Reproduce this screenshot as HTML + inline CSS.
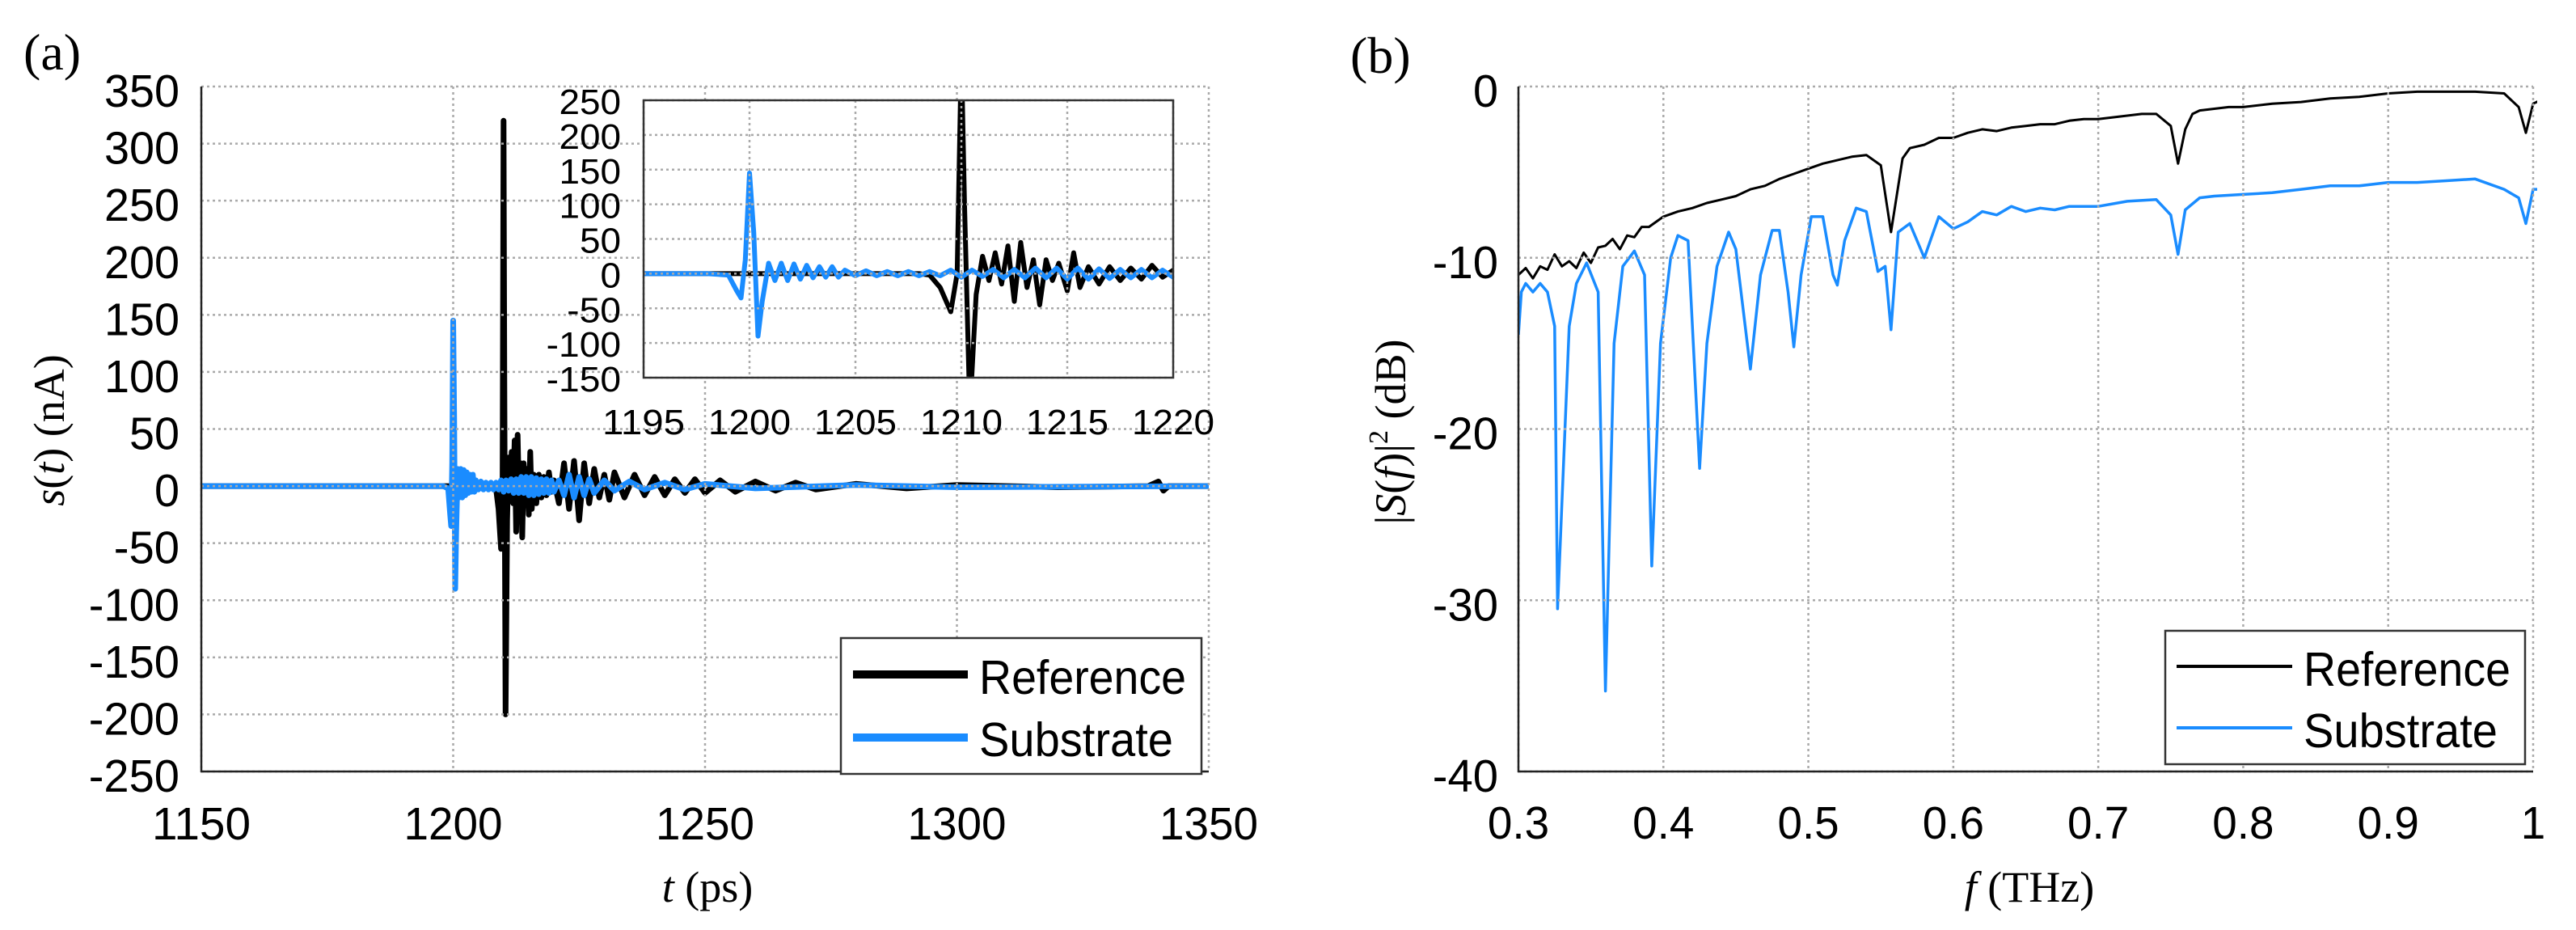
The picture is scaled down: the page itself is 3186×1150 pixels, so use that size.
<!DOCTYPE html>
<html><head><meta charset="utf-8"><style>
html,body{margin:0;padding:0;background:#fff;overflow:hidden;}
svg{display:block;}
</style></head><body>
<svg id="fig" width="3186" height="1150" xmlns="http://www.w3.org/2000/svg">
<defs>
<clipPath id="clipA"><rect x="249" y="107" width="1246" height="847"/></clipPath>
<clipPath id="clipI"><rect x="796" y="124" width="655" height="343"/></clipPath>
<clipPath id="clipB"><rect x="1878" y="107" width="1260" height="847"/></clipPath>
</defs>
</svg>
<script>
// ---------- data: panel (a) time-domain ----------
const subT=[1150,1195,1198,1199,1199.4,1199.6,1199.8,1200.0,1200.2,1200.4,1200.6,1200.9,1201.2,1201.5,1201.8,1202.1,1202.4,1202.7,1203,1203.3,1203.6,1203.9,1204.2,1204.5,1205,1205.5,1206,1206.5,1207,1207.5,1208,1208.5,1209,1209.5,1210,1210.5,1211,1211.5,1212,1212.5,1213,1213.5,1214,1214.5,1215,1215.5,1216,1216.5,1217,1217.5,1218,1218.5,1219,1219.5,1220,1221,1222,1223,1224,1225,1226,1227,1228,1230,1232,1235,1238,1242,1246,1250,1260,1280,1300,1350];
const subV=[0,0,0,-2,-25,-35,20,145,60,-90,-40,15,-10,15,-10,14,-8,12,-6,10,-5,10,-5,5,-3,4,-3,3,-3,3,-3,3,-3,5,-5,5,-4,6,-6,6,-6,8,-6,8,-8,8,-8,7,-7,6,-6,6,-6,5,-5,5,-8,10,-10,8,-8,6,-6,5,-4,4,-3,3,-3,2,-2,1,-1,0];
const refT=[1150,1208,1208.5,1209,1209.5,1209.8,1210.0,1210.15,1210.4,1210.7,1211,1211.3,1211.6,1211.9,1212.2,1212.5,1212.8,1213.1,1213.4,1213.7,1214,1214.3,1214.6,1215,1215.3,1215.6,1216,1216.5,1217,1217.5,1218,1218.5,1219,1219.5,1220,1221,1222,1223,1224,1225,1226,1227,1228,1229,1230,1231,1232,1234,1236,1238,1240,1242,1244,1246,1248,1250,1253,1256,1260,1264,1268,1272,1280,1290,1300,1320,1338,1340,1341,1342,1350];
const refV=[0,0,-2,-20,-55,0,320,100,-200,-30,25,-10,30,-15,40,-40,45,-20,20,-45,20,-10,15,-25,30,-20,10,-15,10,-10,8,-8,12,-5,5,-15,20,-20,22,-30,20,-15,15,-10,10,-12,12,-10,10,-8,8,-8,6,-6,6,-6,5,-5,4,-4,3,-3,2,-2,1,-1,0,4,-4,0,0];
const aXTicks=[1150,1200,1250,1300,1350];
const aYTicks=[350,300,250,200,150,100,50,0,-50,-100,-150,-200,-250];
const iXTicks=[1195,1200,1205,1210,1215,1220];
const iYTicks=[250,200,150,100,50,0,-50,-100,-150];
// ---------- data: panel (b) spectra ----------
const refF=[0.30,0.305,0.31,0.315,0.32,0.325,0.33,0.335,0.34,0.345,0.35,0.355,0.36,0.365,0.37,0.375,0.38,0.385,0.39,0.40,0.41,0.42,0.43,0.44,0.45,0.46,0.47,0.48,0.49,0.50,0.51,0.52,0.53,0.54,0.55,0.557,0.565,0.57,0.58,0.59,0.60,0.61,0.62,0.63,0.64,0.65,0.66,0.67,0.68,0.69,0.70,0.71,0.72,0.73,0.74,0.75,0.755,0.76,0.765,0.77,0.78,0.79,0.80,0.82,0.84,0.86,0.88,0.90,0.92,0.94,0.96,0.98,0.99,0.995,1.0,1.005];
const refDB=[-11,-10.6,-11.2,-10.5,-10.7,-9.8,-10.5,-10.2,-10.6,-9.7,-10.3,-9.4,-9.3,-8.9,-9.5,-8.7,-8.8,-8.2,-8.2,-7.6,-7.3,-7.1,-6.8,-6.6,-6.4,-6,-5.8,-5.4,-5.1,-4.8,-4.5,-4.3,-4.1,-4.0,-4.6,-8.5,-4.2,-3.6,-3.4,-3.0,-3.0,-2.7,-2.5,-2.6,-2.4,-2.3,-2.2,-2.2,-2.0,-1.9,-1.9,-1.8,-1.7,-1.6,-1.6,-2.3,-4.5,-2.5,-1.6,-1.4,-1.3,-1.2,-1.2,-1.0,-0.9,-0.7,-0.6,-0.4,-0.3,-0.3,-0.3,-0.4,-1.2,-2.7,-1.0,-0.8];
const subF=[0.30,0.302,0.305,0.31,0.315,0.32,0.325,0.327,0.335,0.34,0.347,0.355,0.36,0.366,0.372,0.38,0.387,0.392,0.398,0.405,0.41,0.417,0.425,0.43,0.437,0.445,0.45,0.46,0.467,0.475,0.48,0.486,0.49,0.495,0.502,0.51,0.517,0.52,0.525,0.533,0.54,0.548,0.553,0.557,0.562,0.57,0.58,0.59,0.60,0.61,0.62,0.63,0.64,0.65,0.66,0.67,0.68,0.70,0.72,0.74,0.75,0.755,0.76,0.77,0.78,0.80,0.82,0.84,0.86,0.88,0.90,0.92,0.94,0.96,0.98,0.99,0.995,1.0,1.005];
const subDB=[-14.5,-12,-11.5,-12,-11.5,-12,-14,-30.5,-14,-11.5,-10.3,-12,-35.3,-15,-10.5,-9.6,-11,-28,-15,-10,-8.7,-9.0,-22.3,-15,-10.5,-8.5,-9.5,-16.5,-11,-8.4,-8.4,-12,-15.2,-11,-7.6,-7.6,-11,-11.6,-9,-7.1,-7.3,-10.8,-10.5,-14.2,-8.5,-8,-10,-7.6,-8.3,-7.9,-7.3,-7.5,-7.0,-7.3,-7.1,-7.2,-7.0,-7.0,-6.7,-6.6,-7.5,-9.8,-7.2,-6.5,-6.4,-6.3,-6.2,-6.0,-5.8,-5.8,-5.6,-5.6,-5.5,-5.4,-6.0,-6.5,-8.0,-6.0,-6.0];
const bXTicks=[0.3,0.4,0.5,0.6,0.7,0.8,0.9,1];
const bYTicks=[0,-10,-20,-30,-40];

const NS='http://www.w3.org/2000/svg';
const svg=document.getElementById('fig');
function el(tag,attrs,parent){const e=document.createElementNS(NS,tag);for(const k in attrs)e.setAttribute(k,attrs[k]);(parent||svg).appendChild(e);return e;}
function lin(d0,d1,p0,p1){return v=>p0+(v-d0)*(p1-p0)/(d1-d0);}
function txtW(s,dw){let w=0;for(const c of s){w+= c==='-'?dw*0.62:(c==='.'?dw*0.5:dw);}return w;}
function label(s,x,y,size,dw,anchor,name){
  const t=el('text',{x:x,y:y,'font-family':'Liberation Sans, sans-serif','font-size':size,'text-anchor':anchor,textLength:txtW(s,dw),lengthAdjust:'spacingAndGlyphs',fill:'#000'});
  t.textContent=s;
  
  
  return t;
}
function pathD(xs,ys,fx,fy){return xs.map((v,i)=>(i?'L':'M')+fx(v).toFixed(1)+','+fy(ys[i]).toFixed(1)).join('');}
const GRID={stroke:'#aaa','stroke-width':2.5,'stroke-dasharray':'3,4'};
function grid(x1,y1,x2,y2,parent,name){const g=el('line',Object.assign({x1:x1,y1:y1,x2:x2,y2:y2},GRID),parent);return g;}

// ===== Panel (a) =====
const AL=249,AR=1495,AT=107,AB=954;
const ax=lin(1150,1350,AL,AR), ay=lin(350,-250,AT,AB);
const gA=el('g',{});


const dA=el('g',{'clip-path':'url(#clipA)'},gA);
const pr=el('path',{d:pathD(refT,refV,ax,ay),fill:'none',stroke:'#000','stroke-width':7,'stroke-linejoin':'round'},dA);


const ps=el('path',{d:pathD(subT,subV,ax,ay),fill:'none',stroke:'#1a8cff','stroke-width':7,'stroke-linejoin':'round'},dA);


aXTicks.forEach(v=>{grid(ax(v),AT,ax(v),AB,gA,'x-gridline');
  label(String(v),ax(v),1038,57,30.5,'middle','x-tick-label');});
aYTicks.forEach(v=>{grid(AL,ay(v),AR,ay(v),gA,'y-gridline');
  label(String(v),222,ay(v)+25,57,31,'end','y-tick-label');});
el('line',{x1:AL,x2:AL,y1:AT,y2:AB+1,stroke:'#222','stroke-width':2.5},gA);
el('line',{x1:AL-1,x2:AR,y1:AB,y2:AB,stroke:'#222','stroke-width':2.5},gA);

// inset
const IL=796,IR=1451,IT=124,IB=467;
const ix=lin(1195,1220,IL,IR), iy=lin(250,-150,IT,IB);
const gI=el('g',{});


el('rect',{x:IL,y:IT,width:IR-IL,height:IB-IT,fill:'#fff'},gI);
const dI=el('g',{'clip-path':'url(#clipI)'},gI);
const ir=el('path',{d:pathD(refT,refV,ix,iy),fill:'none',stroke:'#000','stroke-width':6,'stroke-linejoin':'round'},dI);


const is=el('path',{d:pathD(subT,subV,ix,iy),fill:'none',stroke:'#1a8cff','stroke-width':6,'stroke-linejoin':'round'},dI);


iXTicks.forEach(v=>{grid(ix(v),IT,ix(v),IB,gI,'inset-x-gridline');
  label(String(v),ix(v),537,44,25.5,'middle','inset-x-tick-label');});
iYTicks.forEach(v=>{grid(IL,iy(v),IR,iy(v),gI,'inset-y-gridline');
  label(String(v),768,iy(v)+17,44,25.5,'end','inset-y-tick-label');});
el('rect',{x:IL,y:IT,width:IR-IL,height:IB-IT,fill:'none',stroke:'#333','stroke-width':2.5},gI);

// legend a
const lgA=el('g',{});


el('rect',{x:1040,y:789,width:446,height:168,fill:'#fff',stroke:'#333','stroke-width':2.5},lgA);
el('line',{x1:1055,x2:1197,y1:834,y2:834,stroke:'#000','stroke-width':10},lgA);
el('line',{x1:1055,x2:1197,y1:912,y2:912,stroke:'#1a8cff','stroke-width':10},lgA);
label('Reference',1211,858,59,29,'start','legend-entry-reference').setAttribute('textLength',256);
label('Substrate',1211,935,59,27,'start','legend-entry-substrate').setAttribute('textLength',240);

// labels a
let t=el('text',{x:29,y:86,'font-family':'Liberation Serif, serif','font-size':64});t.textContent='(a)';

t=el('text',{x:0,y:0,'font-family':'Liberation Serif, serif','font-size':54,'text-anchor':'middle',transform:'translate(79,532) rotate(-90)'});
t.innerHTML='<tspan font-style="italic">s</tspan>(<tspan font-style="italic">t</tspan>) (nA)';

t=el('text',{x:875,y:1115,'font-family':'Liberation Serif, serif','font-size':54,'text-anchor':'middle'});
t.innerHTML='<tspan font-style="italic">t</tspan> (ps)';


// ===== Panel (b) =====
const BL=1878,BR=3133,BT=107,BB=954;
const bx=lin(0.3,1.0,BL,BR), by=lin(0,-40,BT,BB);
const gB=el('g',{});


const dB=el('g',{'clip-path':'url(#clipB)'},gB);
const br=el('path',{d:pathD(refF,refDB,bx,by),fill:'none',stroke:'#000','stroke-width':3,'stroke-linejoin':'round'},dB);


const bs=el('path',{d:pathD(subF,subDB,bx,by),fill:'none',stroke:'#1a8cff','stroke-width':3.5,'stroke-linejoin':'round'},dB);


bXTicks.forEach(v=>{grid(bx(v),BT,bx(v),BB,gB,'x-gridline');
  label(String(v),bx(v),1037,57,30.5,'middle','x-tick-label');});
bYTicks.forEach(v=>{grid(BL,by(v),BR,by(v),gB,'y-gridline');
  label(String(v),1853,by(v)+25,57,31,'end','y-tick-label');});
el('line',{x1:BL,x2:BL,y1:BT,y2:BB+1,stroke:'#222','stroke-width':2.5},gB);
el('line',{x1:BL-1,x2:BR,y1:BB,y2:BB,stroke:'#222','stroke-width':2.5},gB);

const lgB=el('g',{});


el('rect',{x:2678,y:780,width:445,height:165,fill:'#fff',stroke:'#333','stroke-width':2.5},lgB);
el('line',{x1:2692,x2:2835,y1:824,y2:824,stroke:'#000','stroke-width':4},lgB);
el('line',{x1:2692,x2:2835,y1:900,y2:900,stroke:'#1a8cff','stroke-width':4},lgB);
label('Reference',2849,848,59,29,'start','legend-entry-reference').setAttribute('textLength',256);
label('Substrate',2849,924,59,27,'start','legend-entry-substrate').setAttribute('textLength',240);

t=el('text',{x:1670,y:90,'font-family':'Liberation Serif, serif','font-size':64});t.textContent='(b)';

t=el('text',{x:0,y:0,'font-family':'Liberation Serif, serif','font-size':54,'text-anchor':'middle',transform:'translate(1738,534) rotate(-90)'});
t.innerHTML='|<tspan font-style="italic">S</tspan>(<tspan font-style="italic">f</tspan>)|<tspan font-size="34" dy="-22">2</tspan><tspan dy="22"> (dB)</tspan>';

t=el('text',{x:2510,y:1115,'font-family':'Liberation Serif, serif','font-size':54,'text-anchor':'middle'});
t.innerHTML='<tspan font-style="italic">f</tspan> (THz)';

</script>
</body></html>
